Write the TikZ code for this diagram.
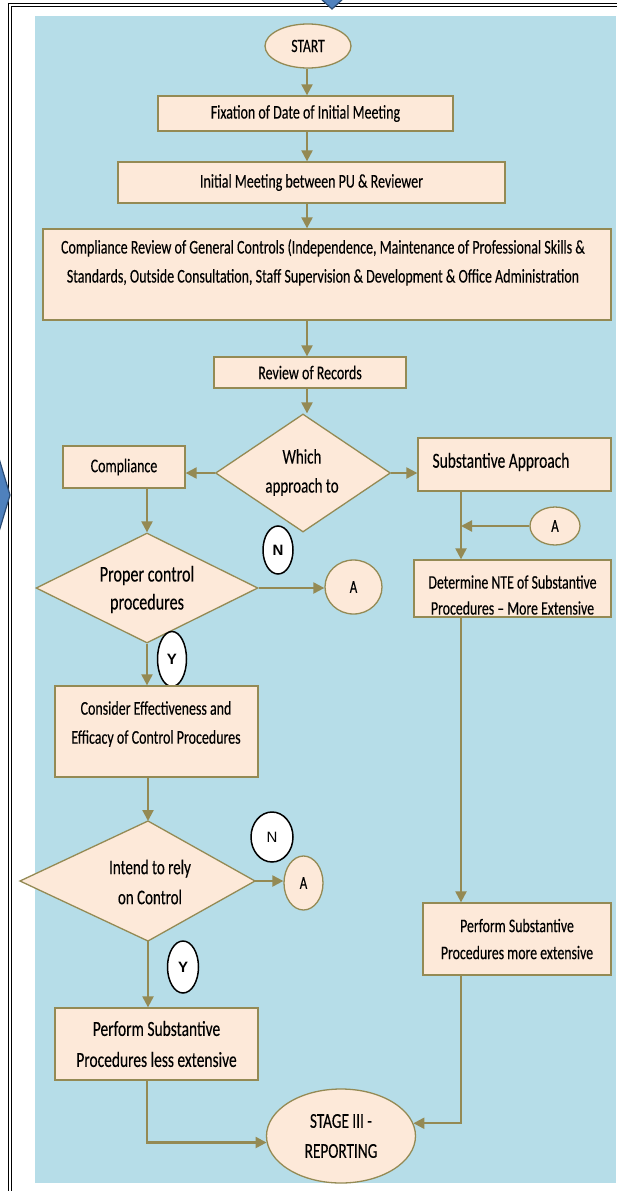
\documentclass[tikz,border=0pt]{standalone}
\usepackage{fontspec}
\setmainfont{Carlito}
\newfontfamily\cf[FakeStretch=0.72,FakeBold=0.25]{Carlito}
\newfontfamily\af{Liberation Sans}
\usetikzlibrary{arrows.meta,shapes.geometric}
\definecolor{flowline}{HTML}{948A54}
\definecolor{peach}{HTML}{FDE9D9}
\definecolor{skyfill}{HTML}{B6DDE8}
\definecolor{markblue}{HTML}{4F81BD}
\definecolor{markedge}{HTML}{2C4D75}
\newcommand\setfs[2]{\fontsize{#1}{#2}\selectfont}
\tikzset{
  box/.style={draw=flowline, fill=peach, line width=1.3pt, inner sep=0pt, align=center,
              font=\cf\setfs{19.4}{29}},
  oval/.style={ellipse, draw=flowline, fill=peach, line width=1.3pt, inner sep=0pt, align=center,
              font=\cf\setfs{19.4}{29}},
  dec/.style={diamond, draw=flowline, fill=peach, line width=1.3pt, inner sep=0pt},
  txt/.style={align=center, inner sep=0pt, font=\cf\setfs{19.4}{29}},
  tag/.style={ellipse, draw=black, fill=white, line width=1.5pt, inner sep=0pt, font=\af\setfs{15}{18}},
  flow/.style={draw=flowline, line width=2.2pt, -{Triangle[length=11pt,width=11pt]}},
}
\begin{document}
\begin{tikzpicture}[x=1pt,y=-1pt]
\useasboundingbox (0,0) rectangle (616,1191);
% page frame and background panel
\fill[skyfill] (34.5,16) rectangle (616,1183);
\draw[black, line width=1pt] (8,1192) -- (8,3.5) -- (617,3.5);
\draw[black, line width=1pt] (11,1192) -- (11,6.5) -- (617,6.5);
% blue markers at the frame edges
\filldraw[fill=markblue, draw=markedge, line width=1.2pt] (320,-2) -- (332,9) -- (344,-2) -- cycle;
\filldraw[fill=markblue, draw=markedge, line width=1.2pt] (-2,455) -- (10,495) -- (-2,535) -- cycle;

% main column
\node[oval, minimum width=86pt, minimum height=44pt, font=\cf\setfs{18.8}{22}] (start) at (308,46) {START};
\node[box, minimum width=295pt, minimum height=35pt] (fix) at (305.5,113.5) {Fixation of Date of Initial Meeting};
\node[box, minimum width=387pt, minimum height=41pt] (init) at (311.5,182.5) {Initial Meeting between PU \& Reviewer};
\node[box, minimum width=568pt, minimum height=91pt] (crev) at (327,274.5) {};
\node[txt] (crev-t) at (323,262.5) {Compliance Review of General Controls (Independence, Maintenance of Professional Skills \&\\Standards, Outside Consultation, Staff Supervision \& Development \& Office Administration};
\node[box, minimum width=192pt, minimum height=31pt] (rev) at (310,372.5) {Review of Records};
\node[dec, minimum width=175pt, minimum height=118pt] (which) at (303,473) {};
\node[txt, font=\cf\setfs{20.8}{29}] (which-t) at (302,472.5) {Which\\approach to};

% compliance branch
\node[box, minimum width=122pt, minimum height=42pt] (comp) at (124,467) {Compliance};
\node[dec, minimum width=222pt, minimum height=110pt] (prop) at (147,588) {};
\node[txt, font=\cf\setfs{22.4}{28}] (prop-t) at (147,589.5) {Proper control\\procedures};
\node[oval, minimum width=57pt, minimum height=54pt, font=\cf\setfs{18}{20}] (a1) at (353.5,587) {A};
\node[tag, minimum width=30pt, minimum height=48pt] (n1) at (278,550) {\textbf{N}};
\node[tag, minimum width=29pt, minimum height=55pt] (y1) at (172,659) {\textbf{Y}};
\node[box, minimum width=203pt, minimum height=91pt] (cons) at (156.5,731.5) {};
\node[txt] (cons-t) at (156,724) {Consider Effectiveness and\\Efficacy of Control Procedures};
\coordinate (il) at (20,881);
\coordinate (it) at (148,821);
\coordinate (ir) at (255,881);
\coordinate (ib) at (148,941);
\draw[draw=flowline, fill=peach, line width=1.3pt] (il) -- (it) -- (ir) -- (ib) -- cycle;
\node[txt, font=\cf\setfs{20.8}{30}] (intend) at (150,882) {Intend to rely\\on Control};
\node[oval, minimum width=39pt, minimum height=54pt, font=\cf\setfs{18}{20}] (a2) at (303.5,883) {A};
\node[tag, minimum width=42pt, minimum height=50pt] (n2) at (272,837) {N};
\node[tag, minimum width=31pt, minimum height=52pt] (y2) at (183,967) {\textbf{Y}};
\node[box, minimum width=203pt, minimum height=72pt, font=\cf\setfs{21.5}{31}] (less) at (156.5,1044) {Perform Substantive\\Procedures less extensive};

% substantive branch
\node[box, minimum width=193pt, minimum height=53pt] (sub) at (514.5,464.5) {};
\node[txt, font=\cf\setfs{21.5}{24}] (sub-t) at (501,462) {Substantive Approach};
\node[oval, minimum width=50pt, minimum height=38pt, font=\cf\setfs{18}{20}] (a3) at (555,526) {A};
\node[box, minimum width=197pt, minimum height=57pt] (det) at (512.5,588.5) {};
\node[txt, font=\cf\setfs{19.2}{26}] (det-t) at (512.5,595) {Determine NTE of Substantive\\Procedures – More Extensive};
\node[box, minimum width=188pt, minimum height=72pt, font=\cf\setfs{19.2}{27}] (more) at (517,939) {Perform Substantive\\Procedures more extensive};

% end
\node[oval, minimum width=149pt, minimum height=94pt, font=\cf\setfs{21.2}{30}] (stage) at (341,1136) {STAGE III -\\REPORTING};

% connectors
\coordinate (spine) at (307,0);
\coordinate (rline) at (461,0);
\draw[flow] (start.south -| spine) -- (fix.north -| spine);
\draw[flow] (fix.south -| spine) -- (init.north -| spine);
\draw[flow] (init.south -| spine) -- (crev.north -| spine);
\draw[flow] (crev.south -| spine) -- (rev.north -| spine);
\draw[flow] (rev.south -| spine) -- (which.north -| spine);
\draw[flow] (which.west) -- (which.west -| comp.east);
\draw[flow] (which.east) -- (which.east -| sub.west);
\draw[flow] (comp.south -| prop.north) -- (prop.north);
\draw[flow] (prop.east) -- (prop.east -| a1.west);
\draw[flow] (prop.south) -- (prop.south |- cons.north);
\draw[flow] (cons.south -| it) -- (it);
\draw[flow] (ir) -- (ir -| a2.west);
\draw[flow] (ib) -- (ib |- less.north);
\draw[flow] (less.south -| prop.south) |- (stage.185);
\draw[flow] (sub.south -| rline) -- (det.north -| rline);
\draw[flow] (a3.west) -- (a3.west -| rline);
\draw[flow] (det.south -| rline) -- (more.north -| rline);
\draw[flow] (more.south -| rline) |- (stage.10);
\end{tikzpicture}
\end{document}
